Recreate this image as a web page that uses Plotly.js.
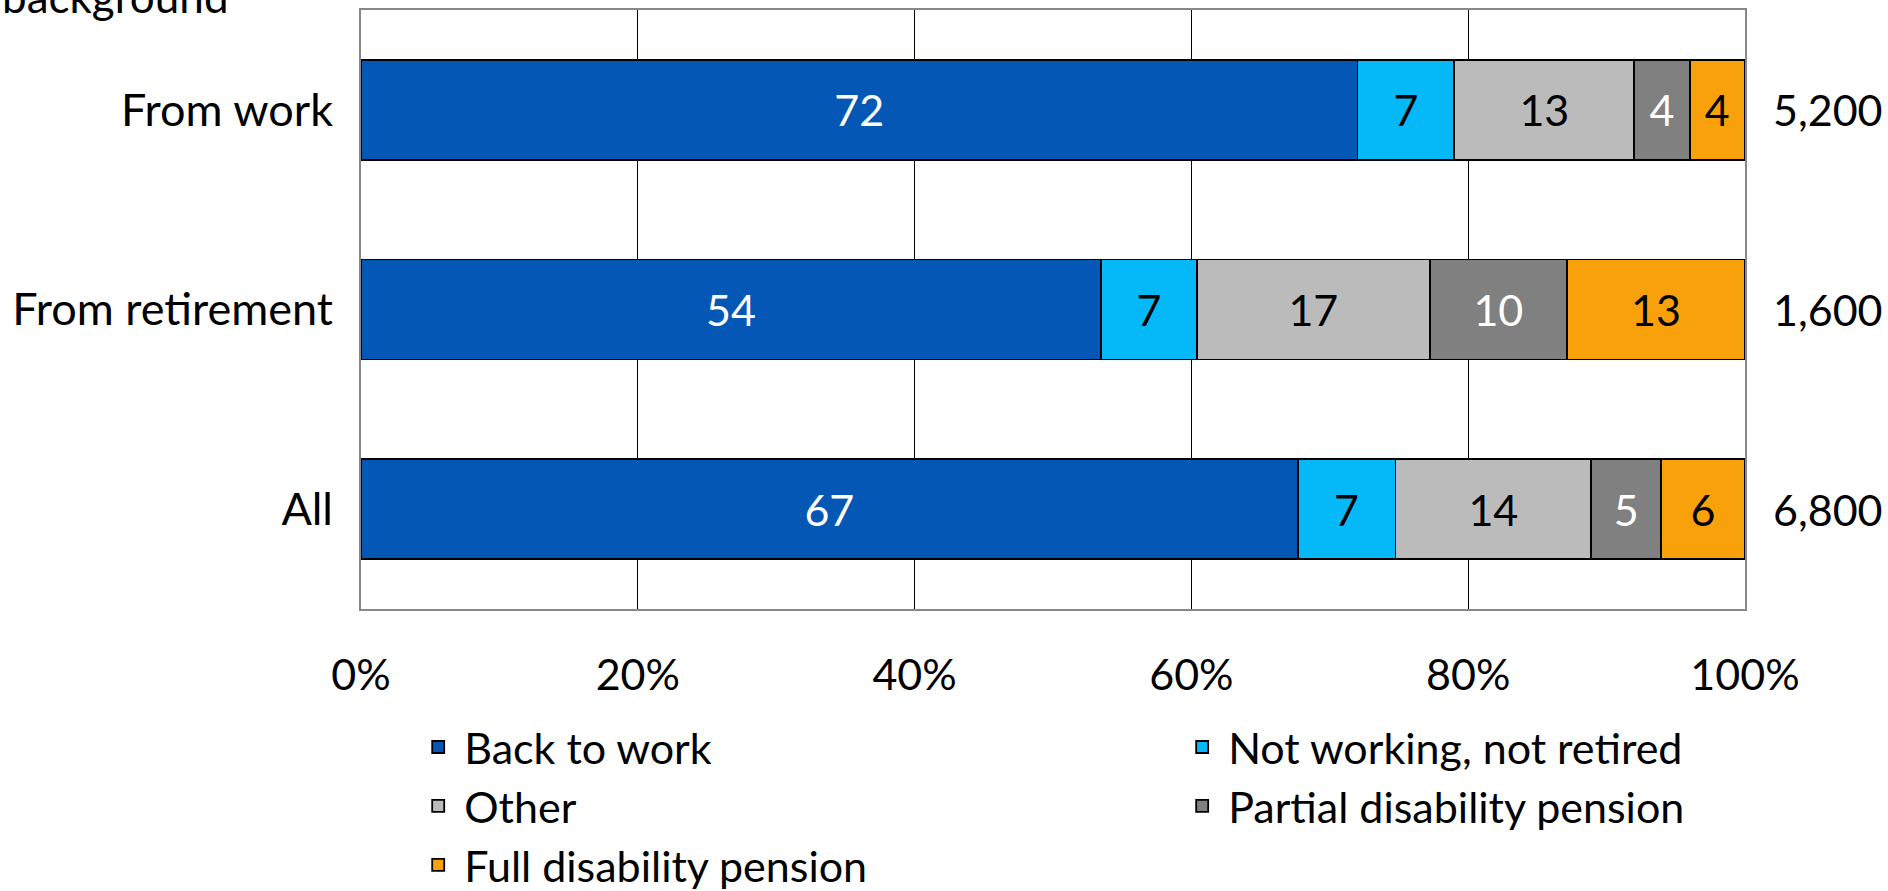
<!DOCTYPE html>
<html>
<head>
<meta charset="utf-8">
<script src="https://cdn.plot.ly/plotly-3.0.1.min.js"></script>
<style>html,body{margin:0;padding:0;background:#fff;}#chart{width:1888px;height:891px;}</style>
</head>
<body>
<div id="chart"></div>
<script>
const categories = ["From work", "From retirement", "All"];
const seriesNames = ["Back to work", "Not working, not retired", "Other", "Partial disability pension", "Full disability pension"];
const backToWork = [72, 54, 67];
const notWorkingNotRetired = [7, 7, 7];
const other = [13, 17, 14];
const partialDisability = [4, 10, 5];
const fullDisability = [4, 13, 6];
const sampleSizes = ["5,200", "1,600", "6,800"];
const xTickVals = [0, 20, 40, 60, 80, 100];

const seriesValues = [backToWork, notWorkingNotRetired, other, partialDisability, fullDisability];
const colors = ["#0457B5", "#05B9F9", "#BBBBBB", "#808080", "#F9A10A"];
const textColors = ["#ffffff", "#000000", "#000000", "#ffffff", "#000000"];
const legendOf = ["legend", "legend2", "legend", "legend2", "legend"];
const FONT = "Lato, 'Open Sans', sans-serif";
const FS = 43;

const traces = seriesValues.map((vals, i) => ({
  type: "bar",
  orientation: "h",
  name: seriesNames[i],
  legend: legendOf[i],
  legendgroup: "g" + i,
  y: categories,
  x: vals,
  text: vals.map(String),
  texttemplate: "%{text}",
  textposition: "inside",
  insidetextanchor: "middle",
  constraintext: "none",
  textangle: 0,
  textfont: {family: FONT, size: FS, color: textColors[i]},
  marker: {color: colors[i], line: {color: "#000000", width: 1.8}},
  hoverinfo: "skip"
}));

const annotations = categories.map((c, i) => ({
  xref: "paper", yref: "y", x: 1, y: c, xanchor: "left", yanchor: "middle",
  xshift: 26, text: sampleSizes[i], showarrow: false,
  font: {family: FONT, size: FS, color: "#000"}
}));
annotations.push({
  xref: "paper", yref: "paper", x: -0.261, y: 0.977, xanchor: "left", yanchor: "bottom",
  text: "background", showarrow: false, font: {family: FONT, size: FS + 1, color: "#000"}
});

const legendBase = {
  orientation: "v", xanchor: "left", yref: "container", y: 0.2003, yanchor: "top",
  traceorder: "normal", itemwidth: 42, tracegroupgap: 8,
  font: {family: FONT, size: FS, color: "#000"}, bgcolor: "rgba(0,0,0,0)"
};

const layout = {
  width: 1888, height: 891,
  margin: {l: 361, r: 143, t: 10, b: 282},
  paper_bgcolor: "#fff", plot_bgcolor: "#fff",
  barmode: "stack", barnorm: "percent", bargap: 0.5,
  font: {family: FONT, size: FS, color: "#000"},
  xaxis: {
    range: [0, 100], tickvals: xTickVals, ticktext: xTickVals.map(v => v + "%"),
    showgrid: true, gridcolor: "#000", gridwidth: 1, zeroline: false,
    showline: true, mirror: true, linecolor: "#888", linewidth: 2,
    ticks: "outside", ticklen: 27, tickcolor: "rgba(0,0,0,0)",
    tickfont: {family: FONT, size: FS, color: "#000"}, fixedrange: true
  },
  yaxis: {
    autorange: "reversed", showgrid: false, zeroline: false,
    showline: true, mirror: true, linecolor: "#888", linewidth: 2,
    ticks: "outside", ticklen: 17, tickcolor: "rgba(0,0,0,0)",
    tickfont: {family: FONT, size: 45, color: "#000"}, fixedrange: true
  },
  showlegend: true,
  legend: Object.assign({}, legendBase, {x: 0.037}),
  legend2: Object.assign({}, legendBase, {x: 0.589}),
  annotations: annotations
};

Plotly.newPlot("chart", traces, layout, {displayModeBar: false, staticPlot: true});
</script>
</body>
</html>
